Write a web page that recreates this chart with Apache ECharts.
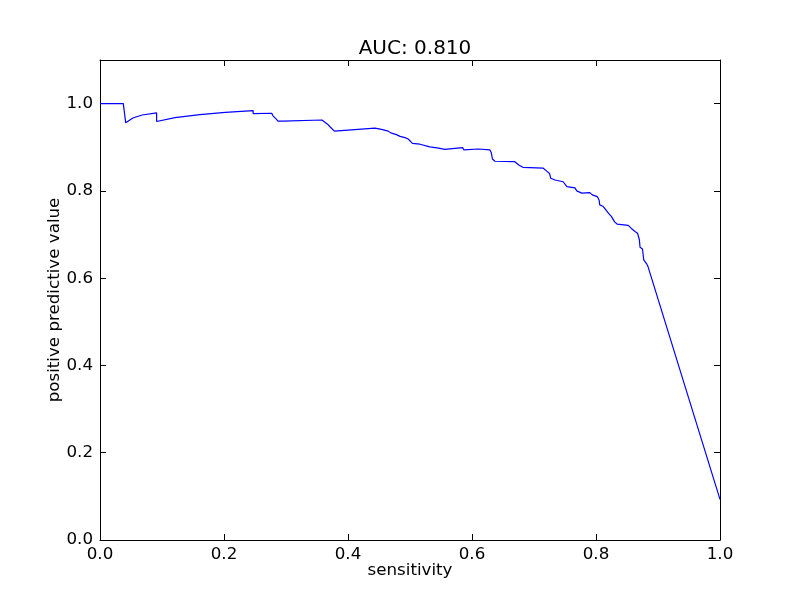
<!DOCTYPE html>
<html>
<head>
<meta charset="utf-8">
<script src="https://cdn.jsdelivr.net/npm/echarts@6/dist/echarts.min.js"></script>
<style>html,body{margin:0;padding:0;background:#fff;}#c{width:800px;height:600px;}</style>
</head>
<body>
<div id="c"></div>
<script>
const titleText = "AUC: 0.810";
const xName = "sensitivity";
const yName = "positive predictive value";
const sensitivity = [0, 0.0376, 0.0415, 0.053, 0.068, 0.0913, 0.0913, 0.121, 0.161, 0.202, 0.247, 0.247, 0.277, 0.279, 0.284, 0.287, 0.295, 0.295, 0.358, 0.360, 0.367, 0.371, 0.378, 0.4435, 0.446, 0.454, 0.457, 0.465, 0.469, 0.478, 0.484, 0.492, 0.497, 0.504, 0.516, 0.519, 0.532, 0.546, 0.556, 0.585, 0.587, 0.610, 0.629, 0.631, 0.633, 0.637, 0.669, 0.672, 0.676, 0.682, 0.685, 0.715, 0.720, 0.725, 0.727, 0.734, 0.747, 0.753, 0.766, 0.769, 0.777, 0.790, 0.794, 0.802, 0.805, 0.806, 0.811, 0.815, 0.820, 0.825, 0.830, 0.834, 0.852, 0.857, 0.863, 0.867, 0.870, 0.871, 0.875, 0.877, 0.882, 0.884, 1.0];
const ppv = [1.0, 1.0, 0.956, 0.967, 0.974, 0.979, 0.959, 0.968, 0.975, 0.980, 0.984, 0.977, 0.978, 0.972, 0.965, 0.960, 0.960, 0.956, 0.9625, 0.9586, 0.953, 0.947, 0.937, 0.944, 0.941, 0.941, 0.938, 0.937, 0.933, 0.929, 0.925, 0.922, 0.919, 0.909, 0.907, 0.904, 0.901, 0.898, 0.895, 0.899, 0.894, 0.896, 0.894, 0.888, 0.873, 0.868, 0.867, 0.865, 0.859, 0.854, 0.852, 0.852, 0.846, 0.840, 0.829, 0.825, 0.821, 0.810, 0.807, 0.800, 0.795, 0.796, 0.791, 0.787, 0.779, 0.768, 0.765, 0.758, 0.749, 0.741, 0.729, 0.724, 0.721, 0.714, 0.707, 0.703, 0.688, 0.671, 0.667, 0.642, 0.632, 0.626, 0.093];
const xTicks = [0, 0.2, 0.4, 0.6, 0.8, 1.0];
const yTicks = [0, 0.2, 0.4, 0.6, 0.8, 1.0];

const font = "DejaVu Sans";
const chart = echarts.init(document.getElementById('c'), null, {renderer: 'canvas'});
const data = sensitivity.map((x, i) => [x, ppv[i]]);
const axisBase = {
  type: 'value',
  axisLine: {show: true, onZero: false, lineStyle: {color: '#000', width: 1}},
  axisTick: {show: true, inside: true, length: 6, lineStyle: {color: '#000', width: 1}},
  splitLine: {show: false},
  interval: 0.2
};
const fmtX = v => xTicks.some(t => Math.abs(t - v) < 1e-6) ? v.toFixed(1) : '';
const fmtY = v => yTicks.some(t => Math.abs(t - v) < 1e-6) ? v.toFixed(1) : '';
chart.setOption({
  animation: false,
  backgroundColor: '#fff',
  title: {
    text: titleText, left: 410, top: 34, textAlign: 'center',
    textStyle: {fontFamily: font, fontSize: 20, fontWeight: 'normal', color: '#000'}
  },
  grid: {left: 100, right: 80, top: 60, bottom: 60, containLabel: false},
  xAxis: [
    Object.assign({}, axisBase, {
      position: 'bottom', min: 0, max: 1,
      name: xName, nameLocation: 'middle', nameGap: 22, nameMoveOverlap: false,
      nameTextStyle: {fontFamily: font, fontSize: 16.7, color: '#000'},
      axisLabel: {show: true, margin: 6, formatter: fmtX, fontFamily: font, fontSize: 16.7, color: '#000'}
    }),
    Object.assign({}, axisBase, {
      position: 'top', min: 0, max: 1, axisLabel: {show: false}
    })
  ],
  yAxis: [
    Object.assign({}, axisBase, {
      position: 'left', min: 0, max: 1.1,
      name: yName, nameLocation: 'middle', nameGap: 37, nameMoveOverlap: false,
      nameTextStyle: {fontFamily: font, fontSize: 16.7, color: '#000'},
      axisLabel: {show: true, margin: 7, formatter: fmtY, fontFamily: font, fontSize: 16.7, color: '#000'}
    }),
    Object.assign({}, axisBase, {
      position: 'right', min: 0, max: 1.1, axisLabel: {show: false}
    })
  ],
  series: [{
    type: 'line', data: data, xAxisIndex: 0, yAxisIndex: 0,
    showSymbol: false, symbol: 'none',
    lineStyle: {color: '#0000ff', width: 1.2},
    itemStyle: {color: '#0000ff'}
  }]
});
</script>
</body>
</html>
